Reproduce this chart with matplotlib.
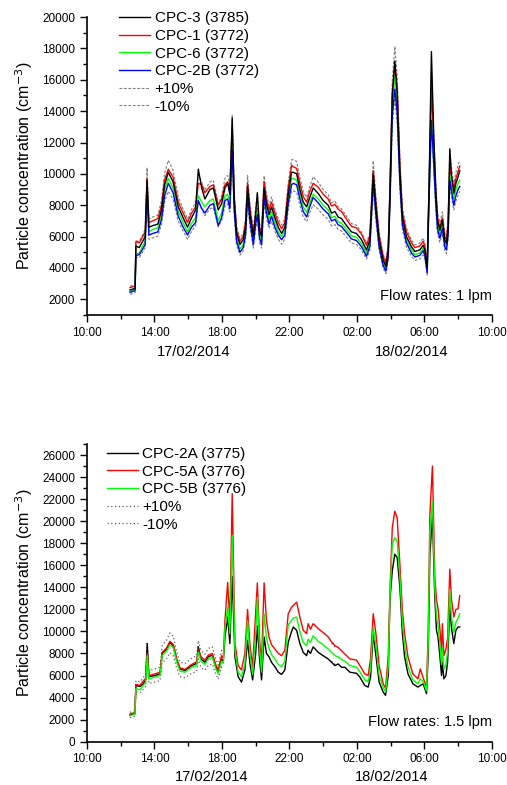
import numpy as np
import matplotlib
matplotlib.use("Agg")
import matplotlib.pyplot as plt
from matplotlib.ticker import MultipleLocator

plt.rcParams['font.family'] = ['Liberation Sans', 'DejaVu Sans']

# hours after 10:00 on 17/02/2014
t_top = [2.55, 2.85, 2.9, 3.1, 3.3, 3.45, 3.56, 3.67, 3.9, 4.2, 4.42, 4.6, 4.82, 5.1, 5.41,
         5.7, 5.96, 6.2, 6.44, 6.6, 6.8, 6.99, 7.29, 7.49, 7.78, 7.98, 8.18, 8.34, 8.47, 8.61,
         8.73, 8.87, 9.07, 9.26, 9.4, 9.52, 9.66, 9.86, 10.0, 10.1, 10.23, 10.35, 10.5, 10.64,
         10.79, 10.94, 11.14, 11.34, 11.54, 11.73, 11.93, 12.13, 12.23, 12.43, 12.62, 12.82,
         13.02, 13.21, 13.41, 13.71, 14.0, 14.3, 14.5, 14.7, 14.89, 15.09, 15.39, 15.68, 15.98,
         16.28, 16.57, 16.77, 16.97, 17.13, 17.32, 17.56, 17.72, 17.86, 17.96, 18.1, 18.25,
         18.39, 18.55, 18.7, 18.94, 19.24, 19.44, 19.73, 19.93, 20.03, 20.17, 20.28, 20.42,
         20.56, 20.68, 20.78, 20.92, 21.07, 21.21, 21.31, 21.41, 21.51, 21.61, 21.75, 21.87,
         22.0, 22.1]
cpc3 = [2600, 2700, 5400, 5300, 5700, 6000, 9600, 6600, 6700, 6800, 7700, 9300, 10100, 9500, 7900,
        7200, 6600, 7200, 7700, 10300, 9100, 8400, 9000, 9100, 7700, 8100, 9100, 9400, 8700, 13550,
        8300, 6200, 5500, 5800, 6600, 9200, 7500, 6000, 7500, 8800, 6400, 6000, 9100, 8100,
        7400, 7900, 7200, 6600, 6200, 6600, 8700, 10100, 10100, 10000, 9000, 8200,
        7900, 8500, 9100, 8750, 8300, 8000, 7500, 7600, 7250, 7150, 6700, 6300, 6200,
        5800, 5150, 5800, 10000, 7900, 5800, 4500, 4100, 5100, 8700, 14900, 17200,
        15100, 10200, 7250, 6000, 5350, 5050, 5150, 5450, 5150, 4000, 9200, 17800,
        12400, 9000, 7050, 6400, 7050, 5800, 5550, 6600, 11600, 9900, 8750, 9400,
        9800, 10200]
cpc1 = [2750, 2850, 5700, 5600, 6000, 6300, 9700, 6900, 7000, 7150, 8000, 9600, 10300, 9800, 8200,
        7500, 6900, 7500, 7900, 9400, 9300, 8800, 9200, 9300, 8000, 8400, 9300, 9500, 8900, 13000,
        8500, 6400, 5700, 6000, 6900, 9400, 7800, 6200, 7300, 7800, 6600, 6200, 9500, 8400,
        7700, 8200, 7500, 6900, 6500, 6900, 9100, 10550, 10450, 10350, 9400, 8550,
        8200, 8900, 9400, 9150, 8700, 8400, 7950, 8050, 7750, 7600, 7100, 6650, 6550,
        6150, 5450, 6050, 10200, 8200, 6050, 4750, 4300, 5350, 9000, 15200, 17000,
        15600, 10600, 7550, 6300, 5600, 5300, 5400, 5700, 5400, 4200, 9000, 15500,
        11800, 8800, 7200, 6600, 7200, 6000, 5800, 6900, 10500, 9800, 9100, 9700,
        10150, 10500]
cpc6 = [2500, 2650, 4900, 4950, 5400, 5700, 9300, 6300, 6450, 6550, 7400, 9000, 9700, 9100, 7600,
        6900, 6300, 6850, 7200, 8600, 8200, 7900, 8300, 8400, 7000, 7500, 8600, 8700, 8200, 12000,
        7900, 5900, 5200, 5500, 6300, 8800, 7200, 5700, 7000, 7700, 6100, 5700, 8800, 7800,
        7100, 7600, 6900, 6300, 6000, 6350, 8400, 9700, 9700, 9600, 8700, 7900,
        7550, 8150, 8700, 8400, 8000, 7700, 7200, 7300, 6950, 6850, 6450, 6050, 5950,
        5550, 4950, 5550, 9700, 7600, 5550, 4300, 3950, 4900, 8400, 14300, 16300,
        14500, 9800, 7000, 5800, 5150, 4850, 4950, 5250, 4950, 3850, 8600, 13600,
        10800, 8300, 6800, 6150, 6800, 5550, 5350, 6350, 10000, 9200, 8400, 9000,
        9400, 9600]
cpc2b = [2450, 2550, 4800, 4850, 5200, 5500, 9200, 6100, 6200, 6300, 7100, 8600, 9400, 8800, 7300,
         6600, 6100, 6600, 6900, 8300, 7800, 7500, 8000, 8100, 6700, 7200, 8300, 8400, 7800, 11500,
         7700, 5700, 5000, 5300, 6100, 8600, 7000, 5500, 6800, 7400, 5900, 5500, 8500, 7500,
         6800, 7300, 6600, 6100, 5800, 6100, 8100, 9300, 9400, 9300, 8400, 7600,
         7250, 7900, 8500, 8150, 7750, 7450, 7000, 7100, 6750, 6650, 6250, 5850, 5750,
         5350, 4750, 5350, 9500, 7400, 5350, 4150, 3800, 4700, 8100, 13700, 15400,
         13900, 9500, 6750, 5600, 4950, 4700, 4800, 5100, 4800, 3700, 8400, 13400,
         10600, 8100, 6500, 5900, 6500, 5350, 5150, 6100, 9600, 8900, 8000, 8600,
         9000, 9200]

t_bot = [2.55, 2.84, 2.9, 3.14, 3.34, 3.48, 3.57, 3.67, 4.03, 4.33, 4.46, 4.72, 4.92, 5.12, 5.32,
         5.51, 5.81, 6.2, 6.5, 6.6, 6.76, 6.99, 7.19, 7.43, 7.63, 7.78, 7.98, 8.08, 8.18, 8.34,
         8.47, 8.61, 8.77, 8.96, 9.16, 9.36, 9.52, 9.66, 9.82, 10.0, 10.1, 10.23, 10.35, 10.5,
         10.64, 10.79, 10.94, 11.14, 11.34, 11.54, 11.73, 11.93, 12.13, 12.23, 12.43, 12.62,
         12.82, 13.02, 13.11, 13.25, 13.41, 13.71, 14.0, 14.3, 14.5, 14.7, 14.89, 15.09, 15.29,
         15.59, 15.98, 16.18, 16.47, 16.67, 16.81, 16.97, 17.13, 17.32, 17.56, 17.7, 17.86,
         17.96, 18.1, 18.25, 18.39, 18.55, 18.7, 18.83, 19.03, 19.32, 19.62, 19.76, 19.93,
         20.13, 20.23, 20.33, 20.48, 20.62, 20.72, 20.81, 20.92, 21.02, 21.07, 21.16, 21.28,
         21.38, 21.51, 21.61, 21.75, 21.87, 22.0, 22.1]
cpc2a = [2400, 2550, 5100, 5000, 5250, 5600, 8900, 5900, 6000, 6150, 8000, 8400, 9000, 8700, 7400,
         6600, 6450, 6900, 7100, 8600, 7500, 7200, 7700, 7850, 6800, 6300, 7500, 7250, 9500, 11300,
         8900, 15000, 7700, 5900, 5400, 6500, 9200, 7100, 5600, 8000, 10500, 7500, 5600, 9500,
         8000, 7700, 7200, 6800, 6300, 6100, 6500, 9000, 10000, 10400, 10100, 8900,
         8100, 7800, 8300, 8000, 8600, 8100, 7800, 7500, 7200, 6900, 7050, 6750, 6750,
         6300, 6200, 5850, 5100, 4950, 5850, 9800, 7800, 5400, 4500, 4200, 6000,
         12800, 15500, 17000, 16700, 14000, 9800, 7700, 6150, 5250, 4950, 5100, 5250,
         4350, 8000, 17000, 20500, 13100, 10100, 9500, 7800, 6000, 7200, 5700, 6000,
         7200, 12200, 10300, 8900, 10100, 10400, 10400]
cpc5a = [2500, 2650, 5200, 5100, 5500, 5750, 8000, 6000, 6150, 6300, 8100, 8500, 9100, 8800, 7500,
         6700, 6550, 7000, 7250, 8300, 7700, 7400, 7850, 8000, 7000, 6500, 7800, 7600, 11000, 14450,
         10800, 22500, 9000, 6900, 6500, 8000, 12000, 8800, 6800, 11700, 14400, 9300, 7200, 14400,
         11000, 9500, 8800, 8400, 8000, 7800, 8300, 11600, 12200, 12350, 12650, 11300,
         10100, 9800, 10700, 10200, 10700, 10250, 9900, 9500, 9050, 8700, 8550, 8250, 7950,
         7500, 7400, 6900, 6150, 6000, 7500, 11600, 9800, 6900, 5250, 4850, 7700,
         13500, 19400, 20900, 20300, 16100, 11900, 9800, 7700, 6150, 5700, 6600, 5800,
         4950, 10000, 20600, 25000, 15000, 12900, 12100, 10300, 8200, 10700, 7800, 8400,
         9400, 15650, 12900, 11300, 12000, 12050, 13250]
cpc5b = [2350, 2500, 4800, 4700, 5100, 5400, 7800, 5700, 5850, 6000, 7800, 8200, 8800, 8500, 7200,
         6400, 6300, 6750, 6900, 8100, 7300, 7000, 7500, 7650, 6650, 6150, 7300, 7100, 10300, 12200,
         9800, 18700, 8300, 6300, 5900, 7000, 11000, 7900, 6100, 9700, 13100, 8300, 6300, 11600,
         9400, 8500, 7900, 7500, 7000, 6800, 7300, 10600, 11000, 11200, 11300, 10000,
         9000, 8700, 9300, 9000, 9600, 9100, 8800, 8400, 8100, 7800, 7700, 7450, 7300,
         6900, 6750, 6350, 5600, 5450, 6600, 10400, 8700, 6000, 4900, 4500, 6800,
         13000, 17900, 18500, 18200, 14900, 10800, 8700, 6800, 5600, 5250, 5700, 5450,
         4600, 9000, 19000, 21800, 14000, 11300, 10600, 8900, 7000, 8500, 6600, 7000,
         8200, 13800, 11300, 9900, 10800, 11200, 11600]

hour_labels = ['10:00', '14:00', '18:00', '22:00', '02:00', '06:00', '10:00']

fig = plt.figure(figsize=(5.07, 7.85), dpi=100)
ax1 = fig.add_axes([0.1716, 0.5987, 0.7984, 0.3796])
ax2 = fig.add_axes([0.1716, 0.0552, 0.7984, 0.3792])


def style_axis(ax, ylo, yhi, major, minor):
    ax.set_xlim(0, 24)
    ax.set_ylim(ylo, yhi)
    ax.xaxis.set_minor_locator(MultipleLocator(2))
    ax.set_xticks(np.arange(0, 25, 4))
    ax.set_xticklabels(hour_labels)
    ax.yaxis.set_major_locator(MultipleLocator(major))
    ax.yaxis.set_minor_locator(MultipleLocator(minor))
    for s in ['top', 'right']:
        ax.spines[s].set_visible(False)
    for s in ['left', 'bottom']:
        ax.spines[s].set_linewidth(1.2)
    ax.tick_params(which='major', direction='out', length=5, width=1.0, labelsize=8.5)
    ax.tick_params(which='minor', direction='out', length=3, width=1.0)
    ax.set_ylabel('Particle concentration (cm$^{-3}$)', fontsize=11.5, labelpad=5)


# top panel: flow rate 1 lpm
top_mean = np.mean([cpc3, cpc1, cpc6, cpc2b], axis=0)
ax1.plot(t_top, top_mean * 1.1, color='#808080', ls=(0, (2.5, 1.5)), lw=0.8, label='+10%')
ax1.plot(t_top, top_mean * 0.9, color='#808080', ls=(0, (2.5, 1.5)), lw=0.8, label='-10%')
ax1.plot(t_top, cpc1, color='#ff0000', lw=1.0, label='CPC-1 (3772)')
ax1.plot(t_top, cpc6, color='#00ff00', lw=1.0, label='CPC-6 (3772)')
ax1.plot(t_top, cpc2b, color='#0000ff', lw=1.0, label='CPC-2B (3772)')
ax1.plot(t_top, cpc3, color='black', lw=1.0, label='CPC-3 (3785)')
style_axis(ax1, 1000, 20000, 2000, 1000)
h, l = ax1.get_legend_handles_labels()
order = [5, 2, 3, 4, 0, 1]
ax1.legend([h[i] for i in order], [l[i] for i in order], loc='upper left',
           bbox_to_anchor=(0.065, 1.04), frameon=False, fontsize=11,
           handlelength=2.0, handletextpad=0.3, labelspacing=0.24, borderaxespad=0)
ax1.text(1.0, 0.04, 'Flow rates: 1 lpm', transform=ax1.transAxes, ha='right',
         va='bottom', fontsize=10.5)

# bottom panel: flow rate 1.5 lpm (+/-10% band shown only where it was plotted)
bot_t = np.array(t_bot)
bot_mean = np.mean([cpc2a, cpc5a, cpc5b], axis=0)
band = np.where((bot_t <= 8.1) | ((bot_t >= 14.45) & (bot_t <= 14.95)), bot_mean, np.nan)
ax2.plot(t_bot, band * 1.1, color='#606060', ls=(0, (1, 2)), lw=0.9, label='+10%')
ax2.plot(t_bot, band * 0.9, color='#606060', ls=(0, (1, 2)), lw=0.9, label='-10%')
ax2.plot(t_bot, cpc2a, color='black', lw=1.0, label='CPC-2A (3775)')
ax2.plot(t_bot, cpc5a, color='#ff0000', lw=1.0, label='CPC-5A (3776)')
ax2.plot(t_bot, cpc5b, color='#00ff00', lw=1.0, label='CPC-5B (3776)')
style_axis(ax2, 0, 27000, 2000, 1000)
h, l = ax2.get_legend_handles_labels()
order = [2, 3, 4, 0, 1]
ax2.legend([h[i] for i in order], [l[i] for i in order], loc='upper left',
           bbox_to_anchor=(0.035, 1.01), frameon=False, fontsize=11,
           handlelength=2.0, handletextpad=0.3, labelspacing=0.24, borderaxespad=0)
ax2.text(1.0, 0.043, 'Flow rates: 1.5 lpm', transform=ax2.transAxes, ha='right',
         va='bottom', fontsize=10.5)

fig.text(0.381, 0.5516, '17/02/2014', ha='center', va='center', fontsize=10.5)
fig.text(0.8126, 0.5516, '18/02/2014', ha='center', va='center', fontsize=10.5)
fig.text(0.418, 0.0102, '17/02/2014', ha='center', va='center', fontsize=10.5)
fig.text(0.773, 0.0102, '18/02/2014', ha='center', va='center', fontsize=10.5)

fig.savefig('out.png', dpi=100)
